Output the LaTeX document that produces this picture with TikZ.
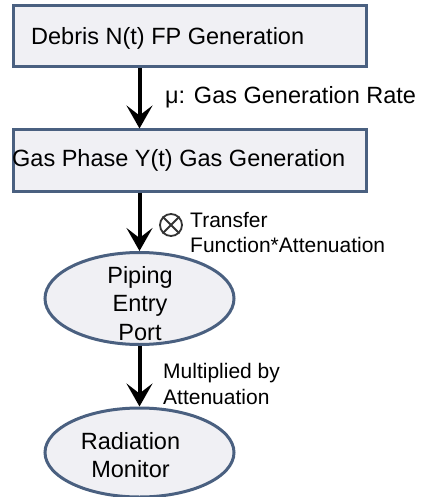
\documentclass[tikz,border=0pt]{standalone}
\usepackage{fontspec}
\setmainfont{Liberation Sans}
\usetikzlibrary{arrows.meta,shapes.geometric}
\definecolor{edgeblue}{HTML}{4A6080}
\definecolor{boxfill}{HTML}{F0F0F4}
\begin{document}
\begin{tikzpicture}[x=1pt,y=-1pt,
  box/.style={draw=edgeblue, fill=boxfill, line width=3pt, minimum width=353pt, minimum height=61pt, inner sep=0pt},
  oval/.style={ellipse, draw=edgeblue, fill=boxfill, line width=3pt, minimum width=189pt, minimum height=92pt, inner sep=0pt},
  maintext/.style={font=\fontsize{23.5}{28.5}\selectfont, inner sep=0pt, align=center},
  labeltext/.style={font=\fontsize{21}{25.5}\selectfont, inner sep=0pt, align=left},
  flow/.style={line width=4pt, -{Stealth[length=23pt,width=26pt,inset=10pt]}},
  ]
\useasboundingbox (0,0) rectangle (420,497);
\node[box] (b1) at (190,36) {};
\node[maintext, anchor=base west] (t1) at (31,45) {Debris N(t) FP Generation};
\node[box] (b2) at (190,160.5) {};
\node[maintext, anchor=base west] (t2) at (12,166) {Gas Phase Y(t) Gas Generation};
\node[oval] (e1) at (139.5,298.5) {};
\node[maintext] (t3) at (140,303.5) {Piping\\Entry\\Port};
\node[oval, minimum height=89pt] (e2) at (139.5,452.5) {};
\node[maintext] (t4) at (130.5,455) {Radiation\\Monitor};
\draw[flow] (b1.south -| e1) -- (b2.north -| e1);
\draw[flow] (b2.south -| e1) -- (e1.north);
\draw[flow] (e1.south) -- (e2.north);
\node[maintext, anchor=base west] (l1) at (165,104) {μ: Gas Generation Rate};
\node[circle, draw=black!80, line width=1.8pt, minimum size=22pt, inner sep=0pt] (ot) at (171,225) {};
\draw[black!80, line width=1.8pt] (ot.north west) -- (ot.south east) (ot.north east) -- (ot.south west);
\node[labeltext, anchor=west] (l2) at (190,232.5) {Transfer\\Function*Attenuation};
\node[labeltext, anchor=west] (l3) at (163,384) {Multiplied by\\Attenuation};
\end{tikzpicture}
\end{document}
